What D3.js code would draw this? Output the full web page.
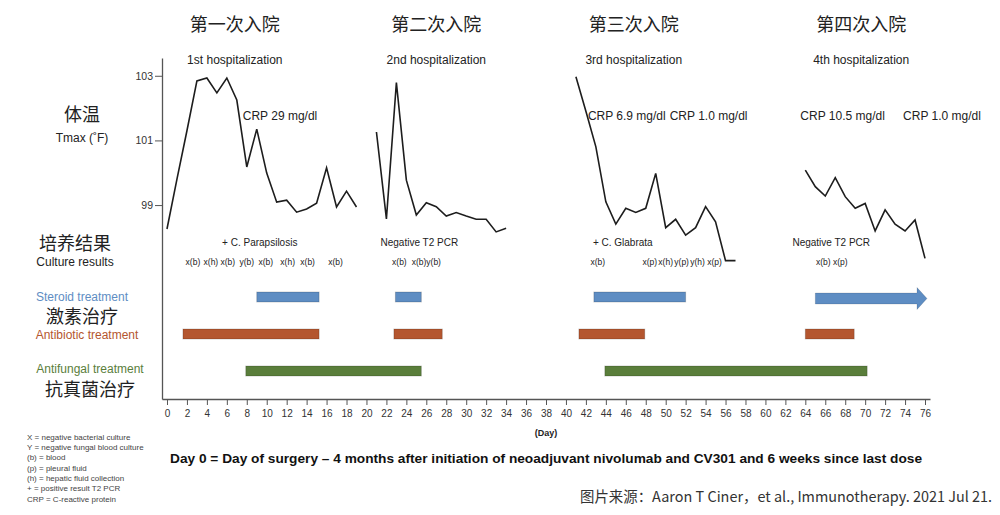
<!DOCTYPE html>
<html>
<head>
<meta charset="utf-8">
<script src="https://cdn.jsdelivr.net/npm/d3@7"></script>
<style>
  body { margin: 0; background: #fff; }
  svg { display: block; }
  .lat { font-family: "Liberation Sans", Arial, sans-serif; }
  .cjk { font-family: "Noto Sans CJK SC", sans-serif; }
</style>
</head>
<body>
<div id="chart"></div>
<script>
// temperature (Tmax, F) per day, one series per hospitalization
var days1 = [0, 1, 2, 3, 4, 5, 6, 7, 8, 9, 10, 11, 12, 13, 14, 15, 16, 17, 18, 19];
var temp1 = [98.26, 99.8, 101.3, 102.84, 102.93, 102.47, 102.93, 102.25, 100.18, 101.35, 99.99, 99.09, 99.15, 98.78, 98.88, 99.06, 100.15, 98.94, 99.43, 98.94];
var days2 = [21, 22, 23, 24, 25, 26, 27, 28, 29, 30, 31, 32, 33, 34];
var temp2 = [101.26, 98.57, 102.79, 99.77, 98.69, 99.07, 98.95, 98.66, 98.77, 98.66, 98.56, 98.56, 98.17, 98.28];
var days3 = [41, 42, 43, 44, 45, 46, 47, 48, 49, 50, 51, 52, 53, 54, 55, 56, 57];
var temp3 = [102.97, 101.9, 100.8, 99.1, 98.41, 98.9, 98.77, 98.9, 99.98, 98.3, 98.56, 98.07, 98.3, 98.95, 98.48, 97.28, 97.28];
var days4 = [64, 65, 66, 67, 68, 69, 70, 71, 72, 73, 74, 75, 76];
var temp4 = [100.08, 99.57, 99.28, 99.85, 99.26, 98.9, 99.05, 98.2, 98.85, 98.41, 98.2, 98.54, 97.35];

// hospitalization headings
var hospZh = ["第一次入院", "第二次入院", "第三次入院", "第四次入院"];
var hospEn = ["1st hospitalization", "2nd hospitalization", "3rd hospitalization", "4th hospitalization"];
var hospDay = [6.8, 27, 46.8, 69.6];

// CRP notes (left-aligned at day)
var crpText = ["CRP 29 mg/dl", "CRP 6.9 mg/dl", "CRP 1.0 mg/dl", "CRP 10.5 mg/dl", "CRP 1.0 mg/dl"];
var crpDay = [7.6, 42.2, 50.4, 63.5, 73.8];

// culture results
var pcrText = ["+ C. Parapsilosis", "Negative T2 PCR", "+ C. Glabrata", "Negative T2 PCR"];
var pcrDay = [9.3, 25.3, 45.7, 66.6];
var cultureText = ["x(b)", "x(h)", "x(b)", "y(b)", "x(b)", "x(h)", "x(b)", "x(b)", "x(b)", "x(b)y(b)",
                   "x(b)", "x(p)", "x(h)", "y(p)", "y(h)", "x(p)", "x(b)", "x(p)"];
var cultureDay = [2.6, 4.4, 6.1, 8.0, 9.9, 12.1, 14.1, 16.9, 23.3, 26.0,
                  43.2, 48.4, 50.0, 51.6, 53.2, 54.9, 65.8, 67.5];

// treatment periods [start day, end day]
var steroidBars = [[9, 15.25], [22.9, 25.5], [42.8, 52]];
var steroidOngoing = [65, 76.2];
var antibioticBars = [[1.6, 15.25], [22.75, 27.6], [41.3, 47.9], [64, 68.9]];
var antifungalBars = [[7.9, 25.5], [43.9, 70.2]];

var yTicks = [99, 101, 103];
var xTicks = [0, 2, 4, 6, 8, 10, 12, 14, 16, 18, 20, 22, 24, 26, 28, 30, 32, 34, 36, 38,
              40, 42, 44, 46, 48, 50, 52, 54, 56, 58, 60, 62, 64, 66, 68, 70, 72, 74, 76];

var legendLines = ["X = negative bacterial culture", "Y = negative fungal blood culture", "(b) = blood",
  "(p) = pleural fluid", "(h) = hepatic fluid collection", "+ = positive result T2 PCR", "CRP =  C-reactive protein"];

var svgWidth = 1000, svgHeight = 515;
var svg = d3.select("#chart").append("svg")
  .attr("width", svgWidth)
  .attr("height", svgHeight);

svg.append("rect").attr("width", svgWidth).attr("height", svgHeight).attr("fill", "#fff");

var x = d3.scaleLinear().domain([-0.5, 76.5]).range([162, 930]);
var y = d3.scaleLinear().domain([93, 103.55]).range([399, 58]);

// axes
var xAxis = svg.append("g")
  .attr("transform", "translate(0,399)")
  .call(d3.axisBottom(x).tickValues(xTicks).tickSize(6).tickSizeOuter(0));
xAxis.select(".domain").attr("stroke", "#555").attr("stroke-width", 1.3);
xAxis.selectAll(".tick line").attr("stroke", "#555");
xAxis.selectAll(".tick text")
  .attr("class", "lat").attr("font-size", "10px").attr("fill", "#333").attr("dy", "0.85em");

var yAxis = svg.append("g")
  .attr("transform", "translate(162,0)")
  .call(d3.axisLeft(y).tickValues(yTicks).tickSize(7).tickSizeOuter(0));
yAxis.select(".domain").attr("stroke", "#555").attr("stroke-width", 1.3);
yAxis.selectAll(".tick line").attr("stroke", "#555");
yAxis.selectAll(".tick text")
  .attr("class", "lat").attr("font-size", "10.5px").attr("fill", "#333").attr("x", -9);

// temperature lines
var line = d3.line().x(d => x(d[0])).y(d => y(d[1]));
[[days1, temp1], [days2, temp2], [days3, temp3], [days4, temp4]].forEach(function(s) {
  svg.append("path")
    .datum(d3.zip(s[0], s[1]))
    .attr("d", line)
    .attr("fill", "none")
    .attr("stroke", "#1d1d1d")
    .attr("stroke-width", 1.6)
    .attr("stroke-linejoin", "miter");
});

// headings
svg.selectAll(".hzh").data(hospZh).enter().append("text")
  .attr("class", "cjk").attr("x", (d, i) => x(hospDay[i])).attr("y", 25).attr("dy", "0.36em")
  .attr("text-anchor", "middle").attr("font-size", "18px").attr("fill", "#222").text(d => d);
svg.selectAll(".hen").data(hospEn).enter().append("text")
  .attr("class", "lat").attr("x", (d, i) => x(hospDay[i])).attr("y", 60).attr("dy", "0.35em")
  .attr("text-anchor", "middle").attr("font-size", "12px").attr("fill", "#222").text(d => d);

svg.selectAll(".crp").data(crpText).enter().append("text")
  .attr("class", "lat").attr("x", (d, i) => x(crpDay[i])).attr("y", 116).attr("dy", "0.35em")
  .attr("font-size", "12px").attr("fill", "#222").text(d => d);

svg.selectAll(".pcr").data(pcrText).enter().append("text")
  .attr("class", "lat").attr("x", (d, i) => x(pcrDay[i])).attr("y", 242).attr("dy", "0.35em")
  .attr("text-anchor", "middle").attr("font-size", "10px").attr("fill", "#222").text(d => d);

svg.selectAll(".cult").data(cultureText).enter().append("text")
  .attr("class", "lat").attr("x", (d, i) => x(cultureDay[i])).attr("y", 262).attr("dy", "0.35em")
  .attr("text-anchor", "middle").attr("font-size", "8.5px").attr("fill", "#222").text(d => d);

// treatment bars
var row = d3.scalePoint().domain(["steroid", "antibiotic", "antifungal"]).range([297, 371]);
var barH = 10;
var colors = { steroid: "#5e8dc3", antibiotic: "#b4562f", antifungal: "#5a7e3b" };

function drawBars(data, key) {
  svg.selectAll(".bar-" + key).data(data).enter().append("rect")
    .attr("x", d => x(d[0]))
    .attr("y", row(key) - barH / 2)
    .attr("width", d => x(d[1]) - x(d[0]))
    .attr("height", barH)
    .attr("fill", colors[key])
    .attr("stroke", "rgba(0,0,0,0.18)")
    .attr("stroke-width", 1);
}
drawBars(steroidBars, "steroid");
drawBars(antibioticBars, "antibiotic");
drawBars(antifungalBars, "antifungal");

// ongoing steroid arrow
var ax0 = x(steroidOngoing[0]), ax1 = x(steroidOngoing[1]), ac = row("steroid") + 1.5;
var headLen = 10, bodyH = 11, headH = 22;
svg.append("path")
  .attr("d", "M" + ax0 + "," + (ac - bodyH / 2) +
    "L" + (ax1 - headLen) + "," + (ac - bodyH / 2) +
    "L" + (ax1 - headLen) + "," + (ac - headH / 2) +
    "L" + ax1 + "," + ac +
    "L" + (ax1 - headLen) + "," + (ac + headH / 2) +
    "L" + (ax1 - headLen) + "," + (ac + bodyH / 2) +
    "L" + ax0 + "," + (ac + bodyH / 2) + "Z")
  .attr("fill", colors.steroid)
  .attr("stroke", "rgba(0,0,0,0.12)");

// left labels
var left = svg.append("g");
function label(txt, cx, cy, size, cls, color) {
  left.append("text").attr("class", cls).attr("x", cx).attr("y", cy).attr("dy", "0.36em")
    .attr("text-anchor", "middle").attr("font-size", size).attr("fill", color).text(txt);
}
label("体温", 82, 115, "18px", "cjk", "#222");
label("Tmax (˚F)", 82, 138, "12px", "lat", "#222");
label("培养结果", 75, 244, "18px", "cjk", "#222");
label("Culture results", 75, 262, "12px", "lat", "#222");
label("Steroid treatment", 82, 297, "12px", "lat", colors.steroid);
label("激素治疗", 82, 317, "18px", "cjk", "#222");
label("Antibiotic treatment", 87, 335, "12px", "lat", colors.antibiotic);
label("Antifungal treatment", 90, 369, "12px", "lat", colors.antifungal);
label("抗真菌治疗", 90, 390, "18px", "cjk", "#222");

// day label and notes
svg.append("text").attr("class", "lat").attr("x", x(38)).attr("y", 433).attr("dy", "0.35em")
  .attr("text-anchor", "middle").attr("font-size", "9px").attr("font-weight", "bold").attr("fill", "#222")
  .text("(Day)");

svg.selectAll(".leg").data(legendLines).enter().append("text")
  .attr("class", "lat").attr("x", 27).attr("y", (d, i) => 437 + i * 10.3).attr("dy", "0.35em")
  .attr("font-size", "8px").attr("fill", "#444").text(d => d);

svg.append("text").attr("class", "lat").attr("x", 170).attr("y", 458).attr("dy", "0.35em")
  .attr("font-size", "13px").attr("font-weight", "bold").attr("fill", "#111")
  .attr("textLength", 752).attr("lengthAdjust", "spacingAndGlyphs")
  .text("Day 0 = Day of surgery – 4 months after initiation of neoadjuvant nivolumab and CV301 and 6 weeks since last dose");

svg.append("text").attr("class", "cjk").attr("x", 580).attr("y", 497).attr("dy", "0.36em")
  .attr("font-size", "14.5px").attr("fill", "#333")
  .attr("textLength", 412).attr("lengthAdjust", "spacingAndGlyphs")
  .text("图片来源：Aaron T Ciner，et al., Immunotherapy. 2021 Jul 21.");
</script>
</body>
</html>
